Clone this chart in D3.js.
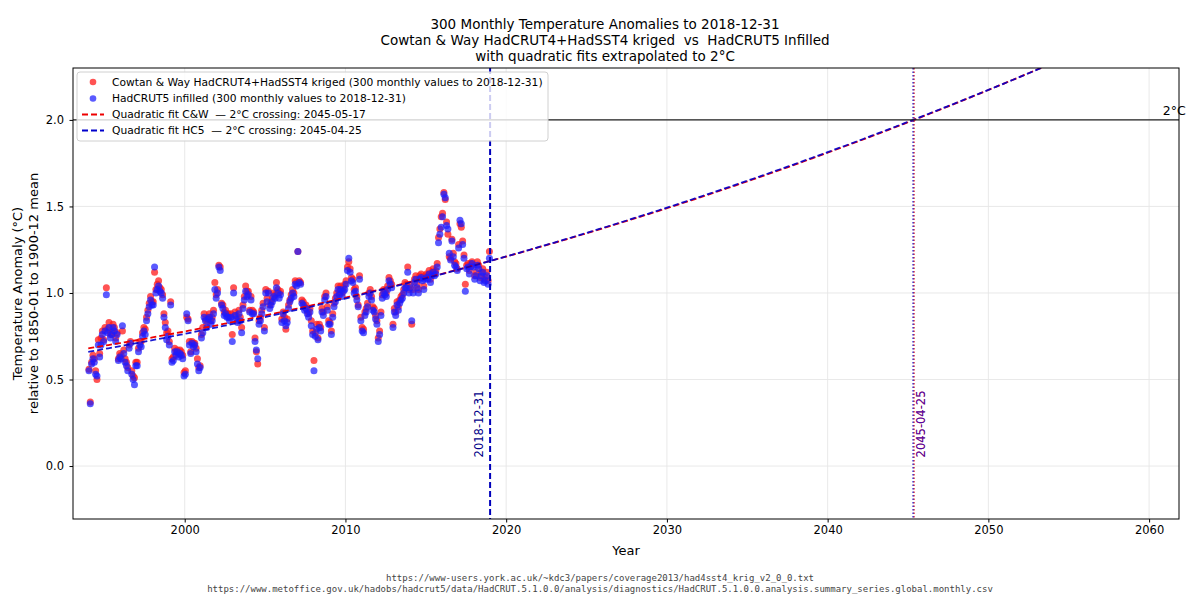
<!DOCTYPE html>
<html>
<head>
<meta charset="utf-8">
<script src="https://cdn.jsdelivr.net/npm/d3@7"></script>
<style>
  html, body { margin: 0; padding: 0; background: #fff; }
  svg { display: block; font-family: "DejaVu Sans", sans-serif; }
  svg text { white-space: pre; }
</style>
</head>
<body>
<svg id="chart" width="1200" height="600"></svg>
<script>
// ---------------- DATA ----------------
const startYear = 1994;          // first month: 1994-01
const monthsCount = 300;         // 300 monthly values to 2018-12

// Cowtan & Way HadCRUT4+HadSST4 kriged (°C, rel. 1850-1900)
const cwValues = [
  0.56,0.37,0.60,0.64,0.62,0.55,0.50,0.73,0.65,0.74,0.78,0.73,
  0.80,1.03,0.79,0.83,0.76,0.77,0.82,0.80,0.74,0.77,0.62,0.65,
  0.64,0.78,0.67,0.62,0.60,0.57,0.70,0.72,0.55,0.52,0.51,0.60,
  0.60,0.68,0.72,0.72,0.77,0.80,0.79,0.86,0.90,0.94,0.98,0.95,
  0.95,1.12,1.02,1.05,1.07,1.03,1.02,0.99,0.88,0.83,0.77,0.78,
  0.72,0.95,0.62,0.63,0.68,0.66,0.67,0.65,0.67,0.66,0.64,0.54,
  0.55,0.86,0.85,0.72,0.66,0.72,0.71,0.71,0.68,0.62,0.57,0.58,
  0.76,0.80,0.88,0.85,0.82,0.86,0.88,0.84,0.86,0.90,1.06,0.99,
  1.02,1.16,1.15,0.94,0.93,0.89,0.90,0.88,0.88,0.86,0.88,0.76,
  1.03,0.89,0.87,0.84,0.90,0.86,0.80,0.93,0.98,1.04,1.01,1.01,
  0.90,0.98,0.90,0.89,0.74,0.66,0.59,0.84,0.86,0.90,0.94,0.80,
  1.02,0.97,1.01,0.93,0.95,0.97,1.00,0.99,1.06,1.02,1.00,1.01,
  0.85,0.89,0.86,0.79,0.85,0.93,0.96,0.99,1.02,1.00,1.07,1.06,
  1.24,1.07,1.06,0.96,0.95,0.92,0.93,0.90,0.88,0.91,0.84,0.78,
  0.61,0.77,0.82,0.74,0.82,0.80,0.91,0.89,0.98,1.00,0.92,0.84,
  0.83,0.78,0.88,0.94,0.97,1.00,1.04,1.01,1.04,1.00,1.03,1.05,
  1.07,1.15,1.18,1.14,1.09,1.08,1.02,1.03,0.98,0.93,1.10,0.86,
  0.80,0.79,0.89,0.91,0.94,1.00,1.02,0.98,0.92,0.91,0.87,0.84,
  0.74,0.78,0.89,0.99,1.02,1.01,1.00,1.04,1.09,1.07,1.05,0.82,
  0.91,0.89,0.95,0.92,0.96,0.98,0.99,1.02,1.06,1.05,1.15,1.02,
  1.05,0.82,1.02,1.08,1.10,1.05,1.02,1.10,1.11,1.09,1.04,1.10,
  1.11,1.10,1.13,1.08,1.12,1.14,1.12,1.13,1.17,1.32,1.37,1.44,
  1.46,1.58,1.54,1.41,1.34,1.21,1.20,1.31,1.23,1.18,1.17,1.14,
  1.28,1.40,1.38,1.30,1.22,1.05,1.16,1.17,1.13,1.17,1.18,1.16,
  1.10,1.12,1.18,1.16,1.09,1.12,1.14,1.08,1.09,1.12,1.07,1.24
];

// HadCRUT5 infilled (°C, rel. 1850-1900)
const hc5Values = [
  0.55,0.36,0.59,0.62,0.60,0.53,0.52,0.70,0.63,0.70,0.76,0.72,
  0.78,0.99,0.77,0.80,0.74,0.76,0.80,0.78,0.72,0.76,0.61,0.63,
  0.62,0.81,0.65,0.60,0.58,0.55,0.68,0.71,0.53,0.50,0.47,0.58,
  0.58,0.66,0.70,0.69,0.75,0.78,0.76,0.84,0.88,0.92,0.96,0.93,
  0.93,1.15,1.00,1.02,1.04,1.01,1.00,0.97,0.86,0.80,0.73,0.75,
  0.70,0.93,0.60,0.61,0.66,0.64,0.66,0.63,0.65,0.64,0.62,0.52,
  0.53,0.88,0.84,0.70,0.65,0.71,0.69,0.70,0.66,0.59,0.55,0.57,
  0.74,0.77,0.86,0.84,0.80,0.85,0.86,0.82,0.84,0.88,1.02,0.97,
  1.00,1.15,1.13,0.93,0.91,0.87,0.88,0.86,0.86,0.84,0.86,0.72,
  1.00,0.87,0.85,0.83,0.88,0.84,0.77,0.91,0.96,1.01,0.98,0.99,
  0.89,0.96,0.88,0.88,0.72,0.67,0.62,0.82,0.84,0.88,0.92,0.78,
  1.00,0.95,1.00,0.91,0.93,0.95,0.98,0.97,1.03,1.00,0.97,0.99,
  0.83,0.88,0.84,0.81,0.83,0.91,0.95,0.97,1.00,0.98,1.05,1.04,
  1.24,1.06,1.05,0.94,0.93,0.90,0.91,0.88,0.86,0.89,0.81,0.76,
  0.55,0.75,0.79,0.73,0.80,0.78,0.89,0.87,0.96,0.98,0.90,0.82,
  0.82,0.76,0.86,0.92,0.95,0.98,1.02,0.99,1.02,0.98,1.01,1.02,
  1.05,1.13,1.20,1.12,1.07,1.06,1.00,1.01,0.96,0.92,1.08,0.84,
  0.78,0.77,0.87,0.89,0.92,0.98,1.00,0.96,0.90,0.89,0.85,0.82,
  0.72,0.76,0.87,0.97,1.00,0.99,0.98,1.02,1.07,1.05,1.03,0.80,
  0.89,0.87,0.93,0.90,0.94,0.96,0.97,1.00,1.03,1.03,1.12,1.00,
  1.03,0.84,1.00,1.06,1.08,1.03,1.00,1.08,1.09,1.07,1.02,1.08,
  1.09,1.08,1.11,1.06,1.10,1.12,1.10,1.11,1.15,1.29,1.34,1.38,
  1.44,1.57,1.55,1.39,1.37,1.23,1.19,1.30,1.21,1.16,1.15,1.13,
  1.26,1.42,1.40,1.28,1.20,1.01,1.14,1.15,1.11,1.15,1.17,1.15,
  1.08,1.10,1.16,1.14,1.07,1.10,1.12,1.06,1.07,1.10,1.05,1.20
];

// Quadratic fit coefficients in t = year - fitOrigin : [a, b, c]
const fitOrigin = 2019.0;
const fitCW  = [1.185, 0.025408, 0.0002083];
const fitHC5 = [1.185, 0.025860, 0.0001944];
const fitRange = [1994.0, 2061.0];

// Markers / reference values
const cutoffYear = 2019.0;            // 2018-12-31
const cutoffLabel = "2018-12-31";
const crossCW = 2045.373;             // 2045-05-17
const crossHC5 = 2045.312;            // 2045-04-25
const crossLabel = "2045-04-25";
const targetTemp = 2.0;

const xTicks = [2000, 2010, 2020, 2030, 2040, 2050, 2060];
const yTicks = [0.0, 0.5, 1.0, 1.5, 2.0];

const titleLines = [
  "300 Monthly Temperature Anomalies to 2018-12-31",
  "Cowtan & Way HadCRUT4+HadSST4 kriged  vs  HadCRUT5 Infilled",
  "with quadratic fits extrapolated to 2°C"
];
const yLabelLines = ["Temperature Anomaly (°C)", "relative to 1850-01 to 1900-12 mean"];
const legendLabels = [
  "Cowtan & Way HadCRUT4+HadSST4 kriged (300 monthly values to 2018-12-31)",
  "HadCRUT5 infilled (300 monthly values to 2018-12-31)",
  "Quadratic fit C&W  — 2°C crossing: 2045-05-17",
  "Quadratic fit HC5  — 2°C crossing: 2045-04-25"
];
const sourceLines = [
  "https://www-users.york.ac.uk/~kdc3/papers/coverage2013/had4sst4_krig_v2_0_0.txt",
  "https://www.metoffice.gov.uk/hadobs/hadcrut5/data/HadCRUT.5.1.0.0/analysis/diagnostics/HadCRUT.5.1.0.0.analysis.summary_series.global.monthly.csv"
];

// ---------------- CHART ----------------
const svg = d3.select("#chart");
const L = 73, R = 1179, T = 68, B = 519;
const x = d3.scaleLinear().domain([1993.05, 2061.86]).range([L, R]);
const y = d3.scaleLinear().domain([-0.306, 2.30]).range([B, T]);

const RED = "#ff1a1a", BLUE = "#1a1aff";

svg.append("defs").append("clipPath").attr("id", "plotclip")
  .append("rect").attr("x", L).attr("y", T).attr("width", R - L).attr("height", B - T);

// grid
const grid = svg.append("g").attr("stroke", "#e6e6e6").attr("stroke-width", 0.9);
grid.selectAll("line.gx").data(xTicks).join("line")
  .attr("x1", d => x(d)).attr("x2", d => x(d)).attr("y1", T).attr("y2", B);
grid.selectAll("line.gy").data(yTicks).join("line")
  .attr("y1", d => y(d)).attr("y2", d => y(d)).attr("x1", L).attr("x2", R);

const plot = svg.append("g").attr("clip-path", "url(#plotclip)");

const monthX = i => startYear + (i + 0.5) / 12;

// scatter
plot.append("g").selectAll("circle").data(cwValues).join("circle")
  .attr("cx", (d, i) => x(monthX(i))).attr("cy", d => y(d)).attr("r", 3.5)
  .attr("fill", RED).attr("fill-opacity", 0.75);
plot.append("g").selectAll("circle").data(hc5Values).join("circle")
  .attr("cx", (d, i) => x(monthX(i))).attr("cy", d => y(d)).attr("r", 3.5)
  .attr("fill", BLUE).attr("fill-opacity", 0.72);

// fits
const fitYears = d3.range(fitRange[0], fitRange[1] + 0.001, 0.25);
const quad = (c) => (yr) => { const t = yr - fitOrigin; return c[0] + c[1] * t + c[2] * t * t; };
const line = (f) => d3.line().x(d => x(d)).y(d => y(f(d)));
plot.append("path").datum(fitYears).attr("d", line(quad(fitCW)))
  .attr("fill", "none").attr("stroke", "#ee0000").attr("stroke-width", 1.8).attr("stroke-dasharray", "6,3");
plot.append("path").datum(fitYears).attr("d", line(quad(fitHC5)))
  .attr("fill", "none").attr("stroke", "#0000cc").attr("stroke-width", 1.8).attr("stroke-dasharray", "6,3").attr("stroke-opacity", 0.9);

// 2°C line
plot.append("line").attr("x1", L).attr("x2", R).attr("y1", y(targetTemp)).attr("y2", y(targetTemp))
  .attr("stroke", "#222").attr("stroke-width", 1.2);

// cutoff vertical line
plot.append("line").attr("x1", x(cutoffYear)).attr("x2", x(cutoffYear)).attr("y1", T).attr("y2", B)
  .attr("stroke", "#0000bb").attr("stroke-width", 2).attr("stroke-dasharray", "6,3");

// crossing vertical lines
plot.append("line").attr("x1", x(crossCW)).attr("x2", x(crossCW)).attr("y1", T).attr("y2", B)
  .attr("stroke", "#dd0000").attr("stroke-width", 1.5).attr("stroke-dasharray", "1.5,2").attr("stroke-opacity", 0.8);
plot.append("line").attr("x1", x(crossHC5)).attr("x2", x(crossHC5)).attr("y1", T).attr("y2", B)
  .attr("stroke", "#0000cc").attr("stroke-width", 1.5).attr("stroke-dasharray", "1.5,2").attr("stroke-opacity", 0.7);

// labels on vertical lines
const vlab = (xp, txt, col, op) => svg.append("text")
  .attr("transform", `translate(${xp},${y(0.05)}) rotate(-90)`)
  .attr("dy", "0.35em").attr("font-size", 11.5).attr("fill", col).attr("fill-opacity", op).text(txt);
vlab(x(cutoffYear) - 11, cutoffLabel, "#000088", 1);
vlab(x(crossCW) + 7, crossLabel, "#dd0000", 0.85);
vlab(x(crossHC5) + 8, crossLabel, "#2200cc", 0.75);

// 2°C label
svg.append("text").attr("x", x(2060.85)).attr("y", y(targetTemp) - 5)
  .attr("font-size", 12.5).attr("fill", "#000").text("2°C");

// frame
svg.append("rect").attr("x", L).attr("y", T).attr("width", R - L).attr("height", B - T)
  .attr("fill", "none").attr("stroke", "#000").attr("stroke-width", 1);

// axes
const xAxis = svg.append("g").attr("transform", `translate(0,${B})`)
  .call(d3.axisBottom(x).tickValues(xTicks).tickFormat(d3.format("d")).tickSize(3.5).tickPadding(3.5));
const yAxis = svg.append("g").attr("transform", `translate(${L},0)`)
  .call(d3.axisLeft(y).tickValues(yTicks).tickFormat(d3.format(".1f")).tickSize(3.5).tickPadding(5.5));
[xAxis, yAxis].forEach(a => {
  a.select(".domain").remove();
  a.selectAll("text").attr("font-size", 11.5).attr("font-family", "DejaVu Sans").attr("fill", "#000");
  a.selectAll("line").attr("stroke", "#000");
});

// axis titles
svg.append("text").attr("x", (L + R) / 2).attr("y", 555).attr("text-anchor", "middle")
  .attr("font-size", 13).text("Year");
yLabelLines.forEach((t, i) => {
  svg.append("text").attr("transform", `translate(${22 + i * 16},${(T + B) / 2}) rotate(-90)`)
    .attr("text-anchor", "middle").attr("font-size", 13).text(t);
});

// title
titleLines.forEach((t, i) => {
  svg.append("text").attr("x", 605).attr("y", 29 + i * 16).attr("text-anchor", "middle")
    .attr("font-size", 13.5).text(t);
});

// sources
sourceLines.forEach((t, i) => {
  svg.append("text").attr("x", 600).attr("y", 581 + i * 11).attr("text-anchor", "middle")
    .attr("font-family", "DejaVu Sans Mono").attr("font-size", 9).attr("fill", "#444").text(t);
});

// legend
const lg = svg.append("g");
lg.append("rect").attr("x", 77).attr("y", 72).attr("width", 471).attr("height", 69).attr("rx", 3)
  .attr("fill", "#fff").attr("fill-opacity", 0.8).attr("stroke", "#d0d0d0").attr("stroke-width", 1);
const rowY = [82, 98.5, 114.5, 130.5];
lg.append("circle").attr("cx", 93).attr("cy", rowY[0]).attr("r", 3.3).attr("fill", RED).attr("fill-opacity", 0.75);
lg.append("circle").attr("cx", 93).attr("cy", rowY[1]).attr("r", 3.3).attr("fill", BLUE).attr("fill-opacity", 0.72);
lg.append("line").attr("x1", 82).attr("x2", 104).attr("y1", rowY[2]).attr("y2", rowY[2])
  .attr("stroke", "#ee0000").attr("stroke-width", 1.8).attr("stroke-dasharray", "6,3");
lg.append("line").attr("x1", 82).attr("x2", 104).attr("y1", rowY[3]).attr("y2", rowY[3])
  .attr("stroke", "#0000cc").attr("stroke-width", 1.8).attr("stroke-dasharray", "6,3");
legendLabels.forEach((t, i) => {
  lg.append("text").attr("x", 112).attr("y", rowY[i]).attr("dy", "0.35em")
    .attr("font-size", 10.7).text(t);
});
</script>
</body>
</html>
